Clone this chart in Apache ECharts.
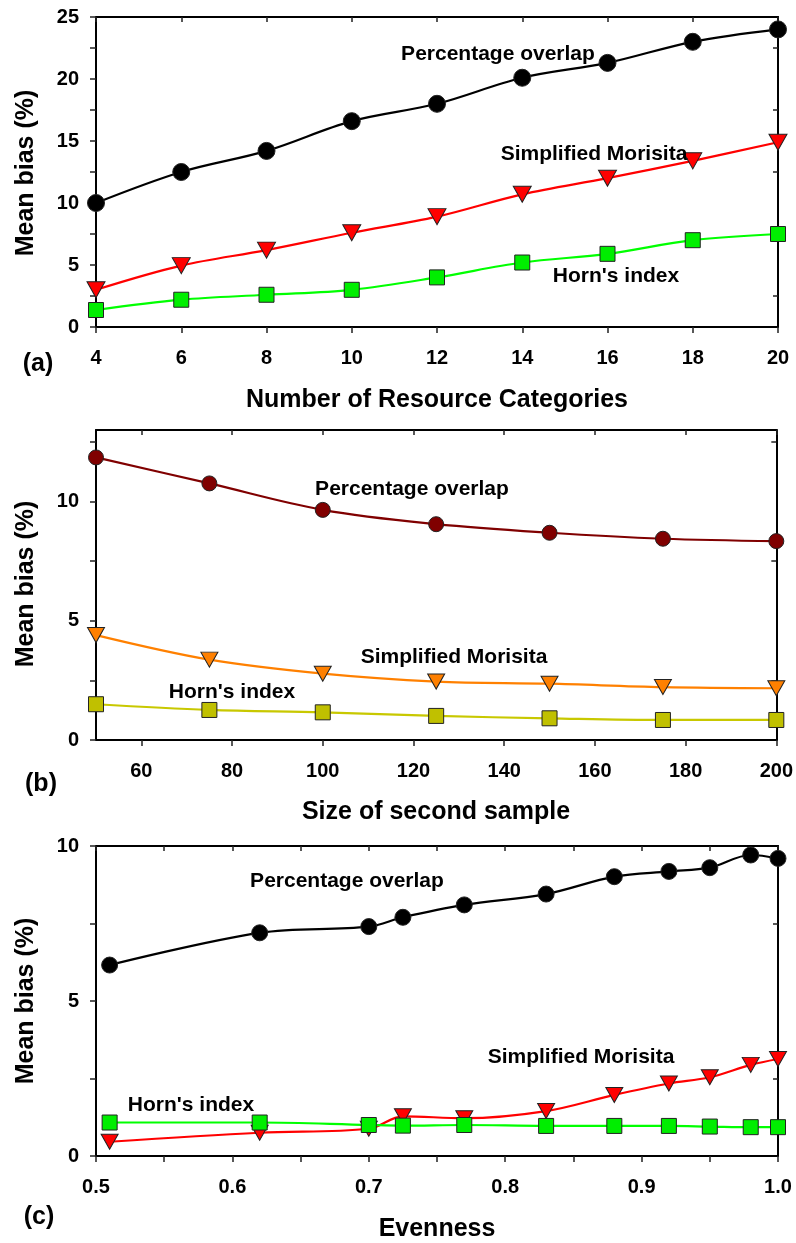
<!DOCTYPE html>
<html>
<head>
<meta charset="utf-8">
<script src="https://cdn.jsdelivr.net/npm/echarts@6/dist/echarts.min.js"></script>
<style>
html,body{margin:0;padding:0;background:#fff;}
#chart{width:796px;height:1243px;}
</style>
</head>
<body>
<div id="chart"></div>
<script>
// ---------- Panel (a) ----------
const catsA = [4, 6, 8, 10, 12, 14, 16, 18, 20];
const poA = [10.0, 12.5, 14.2, 16.6, 18.0, 20.1, 21.3, 23.0, 24.0];
const smA = [3.0, 4.95, 6.2, 7.6, 8.9, 10.7, 12.0, 13.4, 14.9];
const hoA = [1.37, 2.2, 2.6, 3.0, 4.0, 5.2, 5.9, 7.0, 7.5];
const xTicksA = [4, 6, 8, 10, 12, 14, 16, 18, 20];
const yLabelsA = [0, 5, 10, 15, 20, 25];
const yTicksA = [0, 2.5, 5, 7.5, 10, 12.5, 15, 17.5, 20, 22.5, 25];
const yRightA = [2.5, 7.5, 12.5, 17.5, 22.5];

// ---------- Panel (b) ----------
const sizeB = [50, 75, 100, 125, 150, 175, 200];
const poB = [11.85, 10.76, 9.65, 9.05, 8.69, 8.44, 8.34];
const smB = [4.4, 3.37, 2.78, 2.45, 2.36, 2.22, 2.17];
const hoB = [1.5, 1.26, 1.16, 1.01, 0.91, 0.84, 0.84];
const xTicksB = [60, 80, 100, 120, 140, 160, 180, 200];
const yLabelsB = [0, 5, 10];
const yTicksB = [0, 2.5, 5, 7.5, 10, 12.5];
const yRightB = [2.5, 7.5, 12.5];

// ---------- Panel (c) ----------
const evenC = [0.51, 0.62, 0.70, 0.725, 0.77, 0.83, 0.88, 0.92, 0.95, 0.98, 1.0];
const poC = [6.16, 7.20, 7.40, 7.70, 8.10, 8.45, 9.01, 9.18, 9.30, 9.71, 9.60];
const smC = [0.46, 0.75, 0.88, 1.28, 1.22, 1.45, 1.97, 2.34, 2.54, 2.94, 3.13];
const hoC = [1.08, 1.08, 1.0, 0.98, 1.0, 0.97, 0.97, 0.97, 0.95, 0.93, 0.93];
const xLabelsC = [0.5, 0.6, 0.7, 0.8, 0.9, 1.0];
const xTicksC = [0.5, 0.55, 0.6, 0.65, 0.7, 0.75, 0.8, 0.85, 0.9, 0.95, 1.0];
const yLabelsC = [0, 5, 10];
const yTicksC = [0, 2.5, 5, 7.5, 10];
const yRightC = [2.5, 7.5];

const FONT = "'Liberation Sans', Arial, Helvetica, sans-serif";

function zip(xs, ys) { return xs.map((x, i) => [x, ys[i]]); }

const tickStyle = { color: '#222', width: 1.5 };
const axisLineStyle = { show: true, onZero: false, lineStyle: { color: '#000', width: 2 } };
const labelStyle = { fontFamily: FONT, fontWeight: 'bold', fontSize: 20, color: '#000' };

function bottomX(grid, min, max, labels, ticks, fmt) {
  return {
    type: 'value', gridIndex: grid, position: 'bottom', min: min, max: max,
    axisLine: axisLineStyle,
    axisTick: { show: true, inside: false, length: 6, lineStyle: tickStyle, customValues: ticks },
    axisLabel: Object.assign({ margin: 21, customValues: labels, formatter: fmt || (v => String(v)) }, labelStyle),
    splitLine: { show: false }
  };
}
function topX(grid, min, max, ticks) {
  return {
    type: 'value', gridIndex: grid, position: 'top', min: min, max: max,
    axisLine: axisLineStyle,
    axisTick: { show: true, inside: true, length: 5, lineStyle: tickStyle, customValues: ticks },
    axisLabel: { show: false },
    splitLine: { show: false }
  };
}
function leftY(grid, min, max, labels, ticks) {
  return {
    type: 'value', gridIndex: grid, position: 'left', min: min, max: max,
    axisLine: axisLineStyle,
    axisTick: { show: true, inside: false, length: 6, lineStyle: tickStyle, customValues: ticks },
    axisLabel: Object.assign({ margin: 17, customValues: labels, formatter: v => String(v) }, labelStyle),
    splitLine: { show: false }
  };
}
function rightY(grid, min, max, ticks) {
  return {
    type: 'value', gridIndex: grid, position: 'right', min: min, max: max,
    axisLine: axisLineStyle,
    axisTick: { show: true, inside: true, length: 5, lineStyle: tickStyle, customValues: ticks },
    axisLabel: { show: false },
    splitLine: { show: false }
  };
}

function lineSeries(name, xi, yi, data, color, lineColor, symbol, size, z) {
  const s = {
    name: name, type: 'line', xAxisIndex: xi, yAxisIndex: yi, data: data,
    smooth: 0.35, clip: false, symbol: symbol, symbolSize: size,
    lineStyle: { color: lineColor, width: 2.2 },
    itemStyle: { color: color, borderColor: '#222', borderWidth: 1 },
    z: z
  };
  if (symbol === 'triangle') s.symbolRotate = 180;
  return s;
}

function txt(text, x, y, size, rot) {
  const o = {
    type: 'text', x: x, y: y, z: 100,
    style: { text: text, fill: '#000', font: 'bold ' + size + 'px ' + FONT, align: 'center', verticalAlign: 'middle' }
  };
  if (rot) o.rotation = rot;
  return o;
}

const option = {
  animation: false,
  backgroundColor: '#fff',
  grid: [
    { left: 96, right: 18, top: 17, height: 310 },
    { left: 96, right: 18, top: 430, height: 310 },
    { left: 96, right: 18, top: 846, height: 310 }
  ],
  xAxis: [
    bottomX(0, 4, 20, xTicksA, xTicksA),
    topX(0, 4, 20, xTicksA),
    bottomX(1, 50, 200, xTicksB, xTicksB),
    topX(1, 50, 200, xTicksB),
    bottomX(2, 0.5, 1.0, xLabelsC, xTicksC, v => Number(v).toFixed(1)),
    topX(2, 0.5, 1.0, xTicksC)
  ],
  yAxis: [
    leftY(0, 0, 25, yLabelsA, yTicksA),
    rightY(0, 0, 25, yRightA),
    leftY(1, 0, 13, yLabelsB, yTicksB),
    rightY(1, 0, 13, yRightB),
    leftY(2, 0, 10, yLabelsC, yTicksC),
    rightY(2, 0, 10, yRightC)
  ],
  series: [
    lineSeries('Percentage overlap (a)', 0, 0, zip(catsA, poA), '#000000', '#000000', 'circle', 17, 3),
    lineSeries('Simplified Morisita (a)', 0, 0, zip(catsA, smA), '#ff0000', '#ff0000', 'triangle', [18, 16], 4),
    lineSeries('Horn\'s index (a)', 0, 0, zip(catsA, hoA), '#00ee00', '#00ff00', 'rect', 15, 5),

    lineSeries('Percentage overlap (b)', 2, 2, zip(sizeB, poB), '#800000', '#800000', 'circle', 15, 3),
    lineSeries('Simplified Morisita (b)', 2, 2, zip(sizeB, smB), '#ff8000', '#ff8000', 'triangle', [17, 15], 4),
    lineSeries('Horn\'s index (b)', 2, 2, zip(sizeB, hoB), '#c0c000', '#c8c800', 'rect', 15, 5),

    lineSeries('Percentage overlap (c)', 4, 4, zip(evenC, poC), '#000000', '#000000', 'circle', 16, 3),
    lineSeries('Simplified Morisita (c)', 4, 4, zip(evenC, smC), '#ff0000', '#ff0000', 'triangle', [17, 15], 4),
    lineSeries('Horn\'s index (c)', 4, 4, zip(evenC, hoC), '#00ee00', '#00ff00', 'rect', 15, 5)
  ],
  graphic: [
    // panel (a)
    txt('Percentage overlap', 498, 54, 21),
    txt('Simplified Morisita', 594, 154, 21),
    txt('Horn\'s index', 616, 276, 21),
    txt('(a)', 38, 364, 25),
    txt('Number of Resource Categories', 437, 400, 25),
    txt('Mean bias (%)', 26, 173, 25, Math.PI / 2),
    // panel (b)
    txt('Percentage overlap', 412, 489, 21),
    txt('Simplified Morisita', 454, 657, 21),
    txt('Horn\'s index', 232, 692, 21),
    txt('(b)', 41, 784, 25),
    txt('Size of second sample', 436, 812, 25),
    txt('Mean bias (%)', 26, 584, 25, Math.PI / 2),
    // panel (c)
    txt('Percentage overlap', 347, 881, 21),
    txt('Simplified Morisita', 581, 1057, 21),
    txt('Horn\'s index', 191, 1105, 21),
    txt('(c)', 39, 1217, 25),
    txt('Evenness', 437, 1229, 25),
    txt('Mean bias (%)', 26, 1001, 25, Math.PI / 2)
  ]
};

const chart = echarts.init(document.getElementById('chart'), null, { renderer: 'canvas' });
chart.setOption(option);
</script>
</body>
</html>
